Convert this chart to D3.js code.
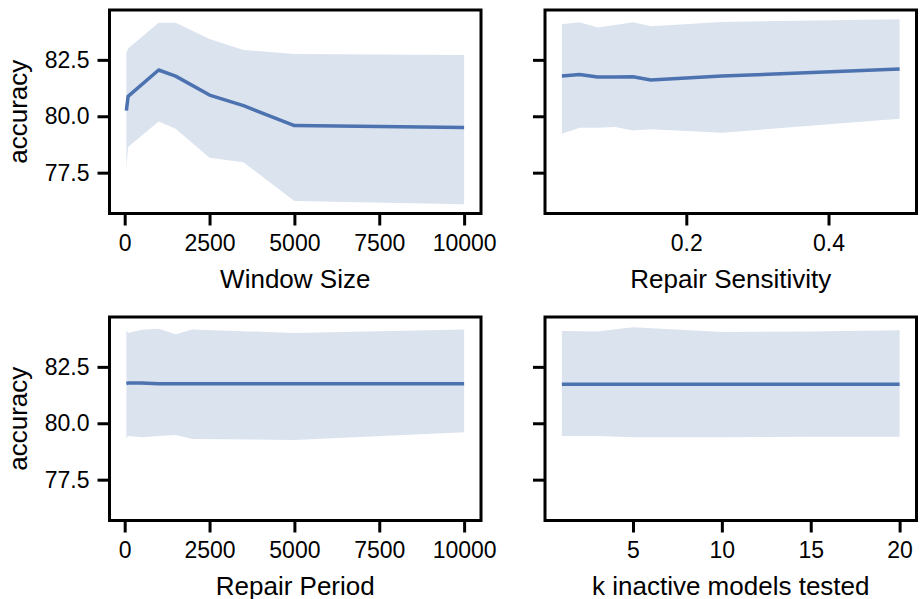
<!DOCTYPE html>
<html>
<head>
<meta charset="utf-8">
<script src="https://cdn.jsdelivr.net/npm/d3@7"></script>
<style>
  body { margin: 0; background: white; }
  svg text { font-family: "Liberation Sans", Arial, sans-serif; fill: #000; }
</style>
</head>
<body>
<div id="chart"></div>
<script>
// values (mean accuracy and band edges)
const windowSize = [50, 100, 1000, 1500, 2500, 3500, 5000, 10000];
const windowMean = [80.25, 80.88, 82.05, 81.78, 80.94, 80.47, 79.59, 79.50];
const windowLow  = [77.68, 78.64, 79.77, 79.45, 78.16, 77.96, 76.24, 76.10];
const windowHigh = [82.80, 83.00, 84.14, 84.14, 83.42, 82.94, 82.76, 82.72];

const sensitivity = [0.025, 0.05, 0.075, 0.1, 0.125, 0.15, 0.25, 0.5];
const sensMean = [81.78, 81.85, 81.74, 81.74, 81.75, 81.61, 81.78, 82.09];
const sensLow  = [79.23, 79.49, 79.49, 79.52, 79.37, 79.42, 79.27, 79.89];
const sensHigh = [84.08, 84.17, 83.93, 84.05, 84.17, 83.99, 84.18, 84.30];

const repairPeriod = [50, 100, 500, 1000, 1500, 2000, 5000, 10000];
const periodMean = [81.76, 81.78, 81.78, 81.75, 81.75, 81.75, 81.75, 81.75];
const periodLow  = [79.34, 79.44, 79.38, 79.44, 79.48, 79.30, 79.26, 79.60];
const periodHigh = [84.12, 84.00, 84.15, 84.19, 83.94, 84.16, 84.00, 84.16];

const kTested = [1, 3, 5, 10, 15, 20];
const kMean = [81.73, 81.73, 81.73, 81.73, 81.73, 81.73];
const kLow  = [79.44, 79.44, 79.38, 79.38, 79.40, 79.40];
const kHigh = [84.09, 84.07, 84.26, 84.04, 84.07, 84.12];

const yTicks = [77.5, 80.0, 82.5];
const windowTicks = [0, 2500, 5000, 7500, 10000];
const sensTicks = [0.2, 0.4];
const kTicks = [5, 10, 15, 20];

const W = 920, H = 599;
const PanelW = 371.5, PanelH = 203.5;
const ColX = [109.5, 545];
const RowY = [10, 317];
const TickFont = 23, LabelFont = 26;
const Blue = "#4c72b0", BandFill = "#dbe3ef";

const svg = d3.select("#chart").append("svg").attr("width", W).attr("height", H);

// shared y range, padded 5% like matplotlib
const allLow = d3.min([windowLow, sensLow, periodLow, kLow].flat());
const allHigh = d3.max([windowHigh, sensHigh, periodHigh, kHigh].flat());
const yPad = (allHigh - allLow) * 0.05;
const y = d3.scaleLinear().domain([allLow - yPad, allHigh + yPad]).range([PanelH, 0]);

function padded(xs) {
  const lo = d3.min(xs), hi = d3.max(xs), p = (hi - lo) * 0.05;
  return [lo - p, hi + p];
}

const panels = [
  { col: 0, row: 0, xs: windowSize, mean: windowMean, low: windowLow, high: windowHigh, ticks: windowTicks, fmt: d3.format("d"), label: "Window Size", ylab: true },
  { col: 1, row: 0, xs: sensitivity, mean: sensMean, low: sensLow, high: sensHigh, ticks: sensTicks, fmt: d3.format(".1f"), label: "Repair Sensitivity", ylab: false },
  { col: 0, row: 1, xs: repairPeriod, mean: periodMean, low: periodLow, high: periodHigh, ticks: windowTicks, fmt: d3.format("d"), label: "Repair Period", ylab: true },
  { col: 1, row: 1, xs: kTested, mean: kMean, low: kLow, high: kHigh, ticks: kTicks, fmt: d3.format("d"), label: "k inactive models tested", ylab: false }
];

panels.forEach(p => {
  const g = svg.append("g").attr("transform", `translate(${ColX[p.col]},${RowY[p.row]})`);
  const x = d3.scaleLinear().domain(padded(p.xs)).range([0, PanelW]);
  const pts = p.xs.map((v, i) => ({ x: v, m: p.mean[i], lo: p.low[i], hi: p.high[i] }));

  g.append("path").datum(pts)
    .attr("fill", BandFill)
    .attr("d", d3.area().x(d => x(d.x)).y0(d => y(d.lo)).y1(d => y(d.hi)));

  g.append("path").datum(pts)
    .attr("fill", "none").attr("stroke", Blue).attr("stroke-width", 3.5)
    .attr("stroke-linejoin", "round")
    .attr("d", d3.line().x(d => x(d.x)).y(d => y(d.m)));

  // frame
  g.append("rect").attr("width", PanelW).attr("height", PanelH)
    .attr("fill", "none").attr("stroke", "#000").attr("stroke-width", 3);

  const xa = g.append("g").attr("transform", `translate(0,${PanelH})`)
    .call(d3.axisBottom(x).tickValues(p.ticks).tickFormat(p.fmt).tickSizeOuter(0).tickSize(12).tickPadding(9));
  const ya = g.append("g")
    .call(d3.axisLeft(y).tickValues(yTicks).tickFormat(p.ylab ? d3.format(".1f") : "").tickSizeOuter(0).tickSize(12).tickPadding(8));

  [xa, ya].forEach(a => {
    a.select(".domain").remove();
    a.selectAll(".tick line").attr("stroke", "#000").attr("stroke-width", 3);
    a.selectAll(".tick text").attr("font-size", TickFont).attr("font-family", null);
  });

  g.append("text").attr("x", PanelW / 2).attr("y", PanelH + 74)
    .attr("text-anchor", "middle").attr("font-size", LabelFont).text(p.label);

  if (p.ylab) {
    g.append("text").attr("transform", `translate(-83,${PanelH / 2}) rotate(-90)`)
      .attr("text-anchor", "middle").attr("font-size", LabelFont).text("accuracy");
  }
});
</script>
</body>
</html>
